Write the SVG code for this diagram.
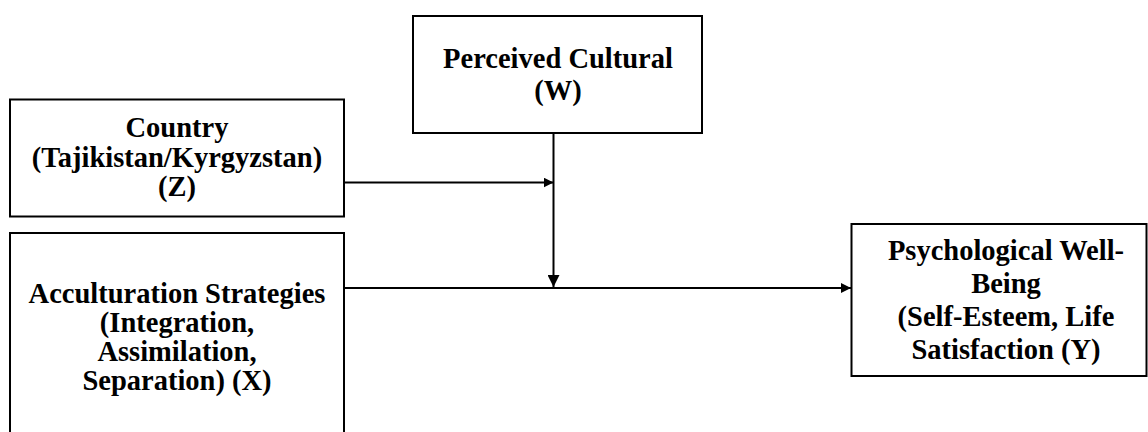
<svg xmlns="http://www.w3.org/2000/svg" width="1148" height="432" viewBox="0 0 1148 432">
  <defs>
    <style>
      .box { fill: #ffffff; stroke: #000000; stroke-width: 2; }
      .lbl { font-family: "Liberation Serif", "Times New Roman", serif; font-weight: bold; font-size: 28.5px; fill: #000000; text-anchor: middle; }
      .edge { fill: none; stroke: #000000; stroke-width: 2; }
    </style>
    <marker id="arrow" viewBox="0 0 10 10" refX="10" refY="5" markerWidth="10" markerHeight="10" markerUnits="userSpaceOnUse" orient="auto">
      <path d="M0,0 L10,5 L0,10 Z" fill="#000000"/>
    </marker>
    <marker id="arrowBig" viewBox="0 0 12 12" refX="12" refY="6" markerWidth="12" markerHeight="12" markerUnits="userSpaceOnUse" orient="auto">
      <path d="M0,0 L12,6 L0,12 Z" fill="#000000"/>
    </marker>
  </defs>
  <rect width="1148" height="432" fill="#ffffff"/>

  <g id="connectors">
    <path class="edge" d="M344,182.5 L553.5,182.5" marker-end="url(#arrow)"/>
    <path class="edge" d="M553.5,133 L553.5,287" marker-end="url(#arrowBig)"/>
    <path class="edge" d="M344,288 L851,288" marker-end="url(#arrow)"/>
  </g>

  <g id="node-W">
    <rect class="box" x="413" y="16" width="289" height="117"/>
    <text class="lbl" x="558" y="68">Perceived Cultural</text>
    <text class="lbl" x="558" y="100">(W)</text>
  </g>

  <g id="node-Z">
    <rect class="box" x="10" y="99.5" width="334" height="117"/>
    <text class="lbl" x="177" y="137">Country</text>
    <text class="lbl" x="177" y="166.5">(Tajikistan/Kyrgyzstan)</text>
    <text class="lbl" x="177" y="196">(Z)</text>
  </g>

  <g id="node-X">
    <rect class="box" x="10" y="233" width="334" height="210"/>
    <text class="lbl" x="177" y="303">Acculturation Strategies</text>
    <text class="lbl" x="177" y="332">(Integration,</text>
    <text class="lbl" x="177" y="361">Assimilation,</text>
    <text class="lbl" x="177" y="390">Separation) (X)</text>
  </g>

  <g id="node-Y">
    <rect class="box" x="851.5" y="224" width="295" height="152"/>
    <text class="lbl" x="1006" y="260">Psychological Well-</text>
    <text class="lbl" x="1006" y="293">Being</text>
    <text class="lbl" x="1006" y="326">(Self-Esteem, Life</text>
    <text class="lbl" x="1006" y="359">Satisfaction (Y)</text>
  </g>
</svg>
